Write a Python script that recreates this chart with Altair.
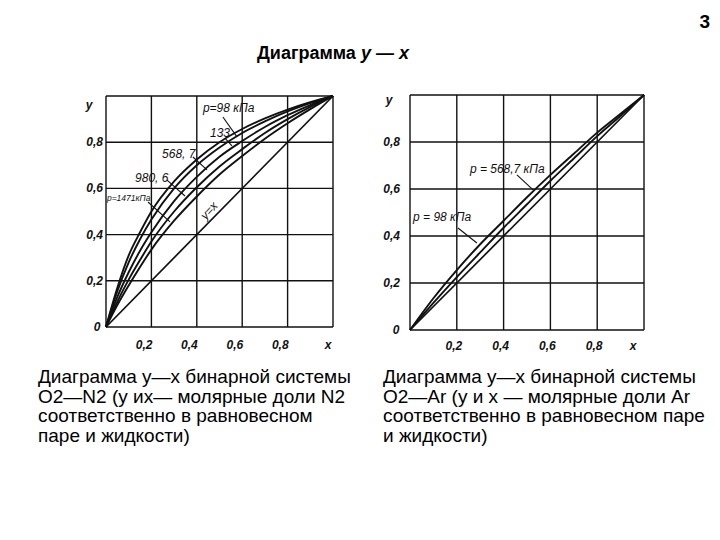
import altair as alt
import pandas as pd

# ---------------- data ----------------
# Left panel: O2–N2, y vs x at several pressures
n2_x = [0, 0.05, 0.1, 0.15, 0.2, 0.3, 0.4, 0.5, 0.6, 0.7, 0.8, 0.9, 1.0]
n2_p98 = [0, 0.17, 0.31, 0.41, 0.50, 0.63, 0.725, 0.80, 0.857, 0.903, 0.941, 0.973, 1.0]
n2_p133 = [0, 0.155, 0.28, 0.38, 0.465, 0.60, 0.70, 0.777, 0.84, 0.89, 0.933, 0.969, 1.0]
n2_p568 = [0, 0.13, 0.237, 0.33, 0.41, 0.545, 0.65, 0.737, 0.805, 0.866, 0.917, 0.961, 1.0]
n2_p980 = [0, 0.11, 0.205, 0.29, 0.37, 0.50, 0.605, 0.695, 0.77, 0.84, 0.90, 0.953, 1.0]
n2_p1471 = [0, 0.095, 0.18, 0.26, 0.335, 0.46, 0.565, 0.66, 0.74, 0.815, 0.882, 0.943, 1.0]
n2_names = ["98", "133", "568,7", "980,6", "1471"]

# Right panel: O2–Ar
ar_x = [0, 0.1, 0.2, 0.3, 0.4, 0.5, 0.6, 0.7, 0.8, 0.9, 1.0]
ar_p98 = [0, 0.135, 0.255, 0.365, 0.465, 0.565, 0.66, 0.75, 0.84, 0.92, 1.0]
ar_p568 = [0, 0.115, 0.225, 0.33, 0.435, 0.535, 0.635, 0.73, 0.825, 0.912, 1.0]
ar_names = ["98", "568,7"]

grid_ticks = [0, 0.2, 0.4, 0.6, 0.8, 1.0]
label_ticks = [0.2, 0.4, 0.6, 0.8]
tick_text = ["0,2", "0,4", "0,6", "0,8"]

# curve annotations (data coordinates)
n2_ann_text = ["p=98 кПа", "133", "568, 7", "980, 6", "p=1471кПа"]
n2_ann_x = [0.427, 0.458, 0.247, 0.128, 0.004]
n2_ann_y = [0.948, 0.840, 0.749, 0.645, 0.558]
n2_ann_fs = [12, 12, 12, 12, 8.5]
n2_lead_x = [0.515, 0.524, 0.383, 0.269, 0.185]
n2_lead_y = [0.909, 0.818, 0.736, 0.636, 0.541]
n2_lead_x2 = [0.577, 0.555, 0.445, 0.348, 0.282]
n2_lead_y2 = [0.823, 0.784, 0.680, 0.567, 0.455]

ar_ann_text = ["p = 568,7 кПа", "p = 98  кПа"]
ar_ann_x = [0.256, 0.013]
ar_ann_y = [0.685, 0.481]
ar_lead_x = [0.457, 0.205]
ar_lead_y = [0.660, 0.434]
ar_lead_x2 = [0.526, 0.286]
ar_lead_y2 = [0.596, 0.370]

caption_left = [
    "Диаграмма y—x бинарной системы",
    "O2—N2 (y иx— молярные доли N2",
    "соответственно в равновесном",
    "паре и жидкости)",
]
caption_right = [
    "Диаграмма y—x бинарной системы",
    "O2—Ar (y и x — молярные доли Ar",
    "соответственно в равновесном паре",
    "и жидкости)",
]

FONT = "Liberation Sans"
TICKFONT = "Liberation Sans"


def panel(xr, yr, xs, series, names, ann, leads, lab):
    SX = alt.Scale(domain=[0, 1], range=xr, nice=False, zero=False)
    SY = alt.Scale(domain=[0, 1], range=yr, nice=False, zero=False)
    X = lambda f: alt.X(f, scale=SX, axis=None)
    Y = lambda f: alt.Y(f, scale=SY, axis=None)

    grid = pd.DataFrame({"v": grid_ticks, "lo": 0.0, "hi": 1.0})
    vgrid = alt.Chart(grid).mark_rule(color="#111", strokeWidth=1.4).encode(
        x=X("v:Q"), y=Y("lo:Q"), y2="hi:Q")
    hgrid = alt.Chart(grid).mark_rule(color="#111", strokeWidth=1.4).encode(
        y=Y("v:Q"), x=X("lo:Q"), x2="hi:Q")

    rows = []
    for name, ys in zip(names, series):
        for x, y in zip(xs, ys):
            rows.append({"p": name, "x": x, "y": y})
    curves = alt.Chart(pd.DataFrame(rows)).mark_line(
        color="#111", strokeWidth=1.9, interpolate="monotone").encode(
        x=X("x:Q"), y=Y("y:Q"), detail="p:N")
    diag = alt.Chart(pd.DataFrame({"x": [0.0, 1.0], "y": [0.0, 1.0]})).mark_line(
        color="#111", strokeWidth=1.7).encode(x=X("x:Q"), y=Y("y:Q"))

    ylab = pd.DataFrame({"v": label_ticks, "t": tick_text, "z": 0.0})
    ytxt = alt.Chart(ylab).mark_text(
        align="right", baseline="middle", dx=lab["ydx"], font=TICKFONT,
        fontSize=12, fontStyle="italic", fontWeight="bold", color="#111").encode(
        x=X("z:Q"), y=Y("v:Q"), text="t:N")
    xtxt = alt.Chart(ylab).mark_text(
        align=lab["xalign"], baseline="middle", dx=lab["xdx"], dy=lab["xdy"],
        font=TICKFONT, fontSize=12, fontStyle="italic", fontWeight="bold",
        color="#111").encode(x=X("v:Q"), y=Y("z:Q"), text="t:N")

    names_df = pd.DataFrame({
        "t": ["0", "y", "x"],
        "x": [0.0, 0.0, 1.0],
        "y": [0.0, lab["ypos"], 0.0],
        "dx": [lab["zdx"], lab["ydxn"], lab["xdxn"]],
        "dy": [0, 0, lab["xdy"]],
    })
    layers = [vgrid, hgrid, curves, diag, ytxt, xtxt]
    for _, r in names_df.iterrows():
        layers.append(
            alt.Chart(pd.DataFrame([r])).mark_text(
                align="center", baseline="middle", dx=float(r["dx"]), dy=float(r["dy"]),
                font=TICKFONT, fontSize=12, fontStyle="italic", fontWeight="bold",
                color="#111").encode(x=X("x:Q"), y=Y("y:Q"), text="t:N"))

    ann_df = pd.DataFrame(ann)
    layers.append(alt.Chart(ann_df).mark_text(
        align="left", baseline="middle", font=FONT, fontStyle="italic",
        color="#111").encode(x=X("x:Q"), y=Y("y:Q"), text="t:N",
                             size=alt.Size("fs:Q", scale=None, legend=None)))
    lead_df = pd.DataFrame(leads)
    layers.append(alt.Chart(lead_df).mark_rule(color="#111", strokeWidth=1.1).encode(
        x=X("x:Q"), y=Y("y:Q"), x2="x2:Q", y2="y2:Q"))
    return layers, X, Y


left_layers, LX, LY = panel(
    [98, 325], [319, 88], n2_x,
    [n2_p98, n2_p133, n2_p568, n2_p980, n2_p1471], n2_names,
    {"t": n2_ann_text, "x": n2_ann_x, "y": n2_ann_y, "fs": n2_ann_fs},
    {"x": n2_lead_x, "y": n2_lead_y, "x2": n2_lead_x2, "y2": n2_lead_y2},
    {"ydx": -3, "xalign": "right", "xdx": 1, "xdy": 18, "ypos": 0.96,
     "zdx": -9, "ydxn": -17, "xdxn": -5},
)
# "y=x" label along the diagonal
left_layers.append(
    alt.Chart(pd.DataFrame({"x": [0.48], "y": [0.48], "t": ["y=x"]})).mark_text(
        align="center", baseline="bottom", angle=312, dy=-1, font=FONT,
        fontSize=12, fontStyle="italic", color="#111").encode(
        x=LX("x:Q"), y=LY("y:Q"), text="t:N"))

right_layers, RX, RY = panel(
    [402, 636], [322, 87], ar_x,
    [ar_p98, ar_p568], ar_names,
    {"t": ar_ann_text, "x": ar_ann_x, "y": ar_ann_y, "fs": [12, 12]},
    {"x": ar_lead_x, "y": ar_lead_y, "x2": ar_lead_x2, "y2": ar_lead_y2},
    {"ydx": -10, "xalign": "center", "xdx": -3, "xdy": 16, "ypos": 0.98,
     "zdx": -14, "ydxn": -21, "xdxn": -11},
)

# ---------------- texts ----------------
def caption(lines, xpx):
    df = pd.DataFrame({"t": lines, "row": list(range(len(lines)))})
    return alt.Chart(df).mark_text(
        align="left", baseline="alphabetic", font=FONT, fontSize=19, color="#000").encode(
        x=alt.value(xpx),
        y=alt.Y("row:Q", scale=alt.Scale(domain=[0, 3], range=[375, 434]), axis=None),
        text="t:N")

title_parts = pd.DataFrame({"t": ["Диаграмма", "y — x"], "k": [0, 1]})
title1 = alt.Chart(title_parts.iloc[[0]]).mark_text(
    align="left", baseline="alphabetic", font=FONT, fontSize=18, fontWeight="bold",
    color="#000").encode(x=alt.value(249), y=alt.value(51), text="t:N")
title2 = alt.Chart(title_parts.iloc[[1]]).mark_text(
    align="left", baseline="alphabetic", font=FONT, fontSize=18, fontWeight="bold",
    fontStyle="italic", color="#000").encode(x=alt.value(353), y=alt.value(51), text="t:N")
pagenum = alt.Chart(pd.DataFrame({"t": ["3"]})).mark_text(
    align="right", baseline="alphabetic", font=FONT, fontSize=19, fontWeight="bold",
    color="#000").encode(x=alt.value(702), y=alt.value(20), text="t:N")

chart = alt.layer(
    *left_layers, *right_layers,
    caption(caption_left, 30), caption(caption_right, 375),
    title1, title2, pagenum,
).resolve_scale(x="independent", y="independent").properties(
    width=704, height=524, padding=0, autosize="none", background="white"
).configure_view(stroke=None)

chart.save("out.html", embed_options={"renderer": "svg", "actions": False})
